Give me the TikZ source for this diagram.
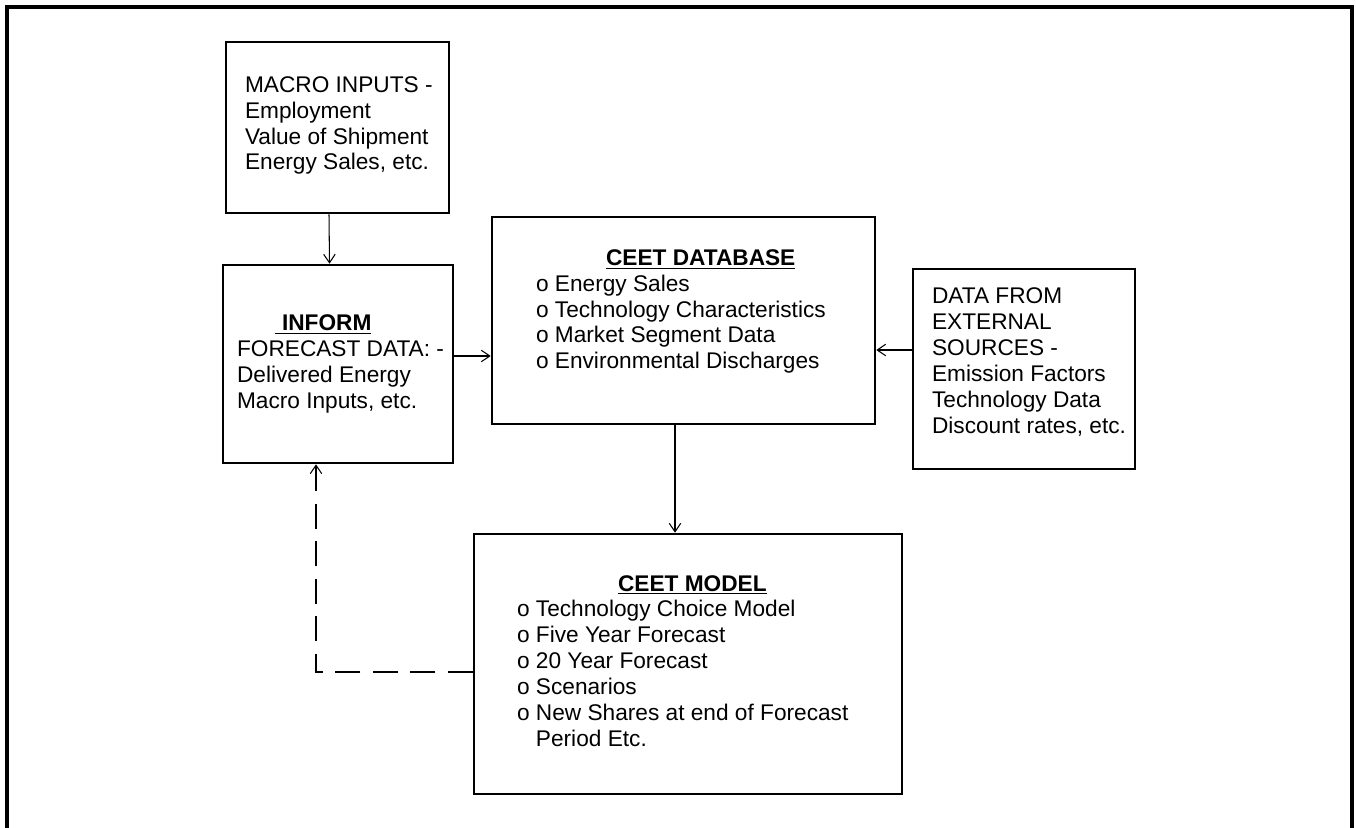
\documentclass[tikz,border=0pt]{standalone}
\usepackage{fontspec}
\setmainfont{Liberation Sans}
\usetikzlibrary{arrows.meta}

\begin{document}
\begin{tikzpicture}[x=0.02cm,y=-0.02cm,
    box/.style={draw,rectangle,line width=1.5pt,inner sep=0pt},
    txt/.style={anchor=west,align=left,inner sep=0pt,font=\fontsize{12.9}{14.75}\selectfont},
    arr/.style={-{Straight Barb[length=1.7mm,width=2.3mm]},line width=0.6pt}]
                \useasboundingbox (0,0) rectangle (1356,828);
                \draw[line width=1.9pt] (7,828) -- (7,7) -- (1352,7) -- (1352,828);
                % boxes
                \node[box,minimum width=4.46cm,minimum height=3.42cm] (macro) at (337.5,127.5) {};
                \node[box,minimum width=4.6cm,minimum height=3.96cm] (inform) at (338,364) {};
                \node[box,minimum width=7.66cm,minimum height=4.14cm] (database) at (683.5,320.5) {};
                \node[box,minimum width=4.44cm,minimum height=4cm] (external) at (1024,369) {};
                \node[box,minimum width=8.56cm,minimum height=5.2cm] (model) at (688,664) {};
                % texts
                \node[txt,xshift=0.4cm,yshift=0.04cm] (macrotxt) at (macro.west)
                    {MACRO INPUTS -\\Employment\\Value of Shipment\\Energy Sales, etc.};
                \node[txt,xshift=0.3cm] (informtxt) at (inform.west)
                    {\hspace*{0.76cm}\underline{\hspace{0.14cm}\textbf{INFORM}}\\FORECAST DATA: -\\Delivered Energy\\Macro Inputs, etc.};
                \node[txt,xshift=0.9cm,yshift=0.18cm] (databasetxt) at (database.west)
                    {\hspace*{1.4cm}\underline{\textbf{CEET DATABASE}}\\o Energy Sales\\o Technology Characteristics\\o Market Segment Data\\o Environmental Discharges};
                \node[txt,xshift=0.4cm,yshift=0.14cm] (externaltxt) at (external.west)
                    {DATA FROM\\EXTERNAL\\SOURCES -\\Emission Factors\\Technology Data\\Discount rates, etc.};
                \node[txt,xshift=0.88cm,yshift=0.06cm] (modeltxt) at (model.west)
                    {\hspace*{2.02cm}\underline{\textbf{CEET MODEL}}\\o Technology Choice Model\\o Five Year Forecast\\o 20 Year Forecast\\o Scenarios\\o New Shares at end of Forecast\\\phantom{o\ }Period Etc.};
                % connectors
                \draw[arr] ([xshift=-0.17cm]macro.south) -- ([xshift=-0.17cm]inform.north);
                \draw[arr] ([yshift=0.16cm]inform.east) -- ([yshift=0.16cm]inform.east -| database.west);
                \draw[arr] ([yshift=0.38cm]external.west) -- ([yshift=0.38cm]external.west -| database.east);
                \draw[arr] ([xshift=-0.17cm]database.south) -- ([xshift=-0.17cm]database.south |- model.north);
                \draw[arr,dash pattern=on 0.5cm off 0.25cm] ([yshift=-0.16cm]model.west) -| ([xshift=-0.44cm]inform.south);
\end{tikzpicture}
\end{document}
